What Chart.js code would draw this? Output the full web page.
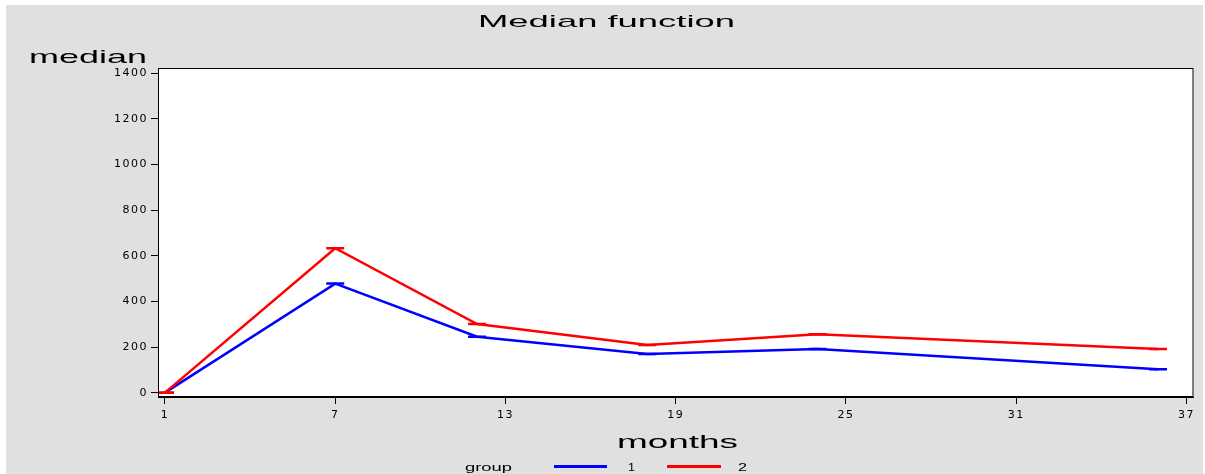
<!DOCTYPE html>
<html>
<head>
<meta charset="utf-8">
<script src="https://cdn.jsdelivr.net/npm/chart.js@4/dist/chart.umd.min.js"></script>
<style>
html,body{margin:0;padding:0;background:#fff;}
#wrap{width:1205px;height:474px;position:relative;}
</style>
</head>
<body>
<div id="wrap"><canvas id="c" width="1205" height="474"></canvas></div>
<script>
// ---- data ----
const months = [1, 7, 12, 18, 24, 36];
const group1 = [0, 478, 245, 170, 191, 103];
const group2 = [0, 633, 301, 209, 256, 191];
const xTickValues = [1, 7, 13, 19, 25, 31, 37];
const yTickValues = [0, 200, 400, 600, 800, 1000, 1200, 1400];
const seriesNames = ['1', '2'];
const titleText = 'Median function';
const yTitle = 'median';
const xTitle = 'months';
const legendTitle = 'group';

const BLUE = '#0000ff', RED = '#ff0000';

function pts(vals){ return months.map((m,i)=>({x:m, y:vals[i]})); }

function stretchText(ctx, text, font, left, baseline, targetW){
  ctx.save();
  ctx.letterSpacing = '0px';
  ctx.font = font;
  ctx.textAlign = 'left';
  ctx.textBaseline = 'alphabetic';
  const w = ctx.measureText(text).width;
  ctx.translate(left, baseline);
  ctx.scale(targetW / w, 1);
  ctx.fillStyle = '#000';
  ctx.fillText(text, 0, 0);
  ctx.restore();
}

const decor = {
  id: 'decor',
  beforeDraw(chart){
    const ctx = chart.ctx;
    ctx.save();
    ctx.fillStyle = '#ffffff';
    ctx.fillRect(0, 0, chart.width, chart.height);
    ctx.fillStyle = '#e0e0e0';
    ctx.fillRect(6, 5, 1197, 469);
    ctx.restore();
    ctx.letterSpacing = '1.5px';
  },
  beforeDatasetsDraw(chart){
    chart.ctx.letterSpacing = '0px';
    const a = chart.chartArea, ctx = chart.ctx;
    ctx.save();
    ctx.fillStyle = '#fff';
    ctx.fillRect(a.left, a.top, a.right - a.left, a.bottom - a.top);
    ctx.restore();
  },
  afterDraw(chart){
    const ctx = chart.ctx, a = chart.chartArea;
    ctx.save();
    ctx.letterSpacing = '0px';
    ctx.strokeStyle = '#000';
    ctx.lineWidth = 1;
    ctx.strokeRect(a.left + 0.5, a.top + 0.5, a.right - a.left - 1, a.bottom - a.top - 1);
    stretchText(ctx, titleText, '17px "Liberation Sans"', 478, 27, 257);
    stretchText(ctx, yTitle, '19px "Liberation Sans"', 29, 63, 118);
    stretchText(ctx, xTitle, '19px "Liberation Sans"', 617, 448, 121);
    stretchText(ctx, legendTitle, '10px "Liberation Sans"', 465, 471, 47);
    // legend lines
    ctx.lineWidth = 3;
    ctx.strokeStyle = BLUE;
    ctx.beginPath(); ctx.moveTo(554, 466.5); ctx.lineTo(607, 466.5); ctx.stroke();
    ctx.strokeStyle = RED;
    ctx.beginPath(); ctx.moveTo(667, 466.5); ctx.lineTo(721, 466.5); ctx.stroke();
    stretchText(ctx, seriesNames[0], '11px "Liberation Sans"', 628, 471, 7);
    stretchText(ctx, seriesNames[1], '11px "Liberation Sans"', 738, 471, 9);
    ctx.restore();
  }
};

const tickFont = {family: '"DejaVu Sans"', size: 11};
const plain = v => String(v);

new Chart(document.getElementById('c'), {
  type: 'scatter',
  data: {
    datasets: [
      {label: seriesNames[1], data: pts(group2), showLine: true, borderColor: RED, backgroundColor: RED,
       borderWidth: 2.5, tension: 0, pointStyle: 'line', pointRadius: 9, pointBorderWidth: 2.5,
       pointBorderColor: RED, order: 0},
      {label: seriesNames[0], data: pts(group1), showLine: true, borderColor: BLUE, backgroundColor: BLUE,
       borderWidth: 2.5, tension: 0, pointStyle: 'line', pointRadius: 9, pointBorderWidth: 2.5,
       pointBorderColor: BLUE, order: 1}
    ]
  },
  options: {
    responsive: false,
    animation: false,
    events: [],
    layout: {padding: {top: 68, right: 9, left: 0, bottom: 0}},
    plugins: {legend: {display: false}, title: {display: false}, tooltip: {enabled: false}},
    scales: {
      x: {
        type: 'linear', min: 0.754, max: 37.25,
        afterBuildTicks(s){ s.ticks = xTickValues.map(v => ({value: v})); },
        afterFit(s){ s.height = 77; },
        grid: {drawOnChartArea: false, drawTicks: true, tickLength: 7, color: '#000', lineWidth: 1},
        border: {display: true, color: '#000', width: 1},
        ticks: {font: tickFont, color: '#000', padding: 5, maxRotation: 0, autoSkip: false, callback: plain}
      },
      y: {
        type: 'linear', min: -19, max: 1423,
        afterBuildTicks(s){ s.ticks = yTickValues.map(v => ({value: v})); },
        afterFit(s){ s.width = 158; },
        grid: {drawOnChartArea: false, drawTicks: true, tickLength: 7, color: '#000', lineWidth: 1},
        border: {display: true, color: '#000', width: 1},
        ticks: {font: tickFont, color: '#000', padding: 3, autoSkip: false, callback: plain}
      }
    }
  },
  plugins: [decor]
});
</script>
</body>
</html>
